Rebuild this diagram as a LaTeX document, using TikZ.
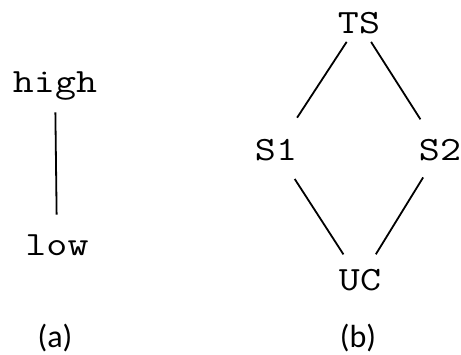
\documentclass[tikz,border=0pt]{standalone}
\usepackage{fontspec}
\newfontfamily\statefont[FakeStretch=1.2]{Latin Modern Mono}
\newfontfamily\capfont{Carlito}
\begin{document}
\begin{tikzpicture}[x=1pt, y=-1pt, line width=1.8pt,
		state/.style={font=\statefont\fontsize{34}{34}\selectfont, anchor=base, text height=20pt, text depth=0pt, inner sep=8pt},
		chain/.style={state, inner sep=19.5pt},
		sub/.style={font=\capfont\fontsize{32}{32}\selectfont, anchor=base}]
			\useasboundingbox (0,0) rectangle (461,354);
			
			% (a) two levels
			\node[chain] (high) at (55,92) {high};
			\node[chain] (low) at (57,255) {low};
			\draw (high) -- (low);
			\node[sub] (capa) at (55,347) {(a)};
			
			% (b) diamond
			\node[state] (TS) at (359,33) {TS};
			\node[state] (S1) at (276,160) {S1};
			\node[state] (S2) at (440,160) {S2};
			\node[state] (UC) at (360,290) {UC};
			\draw[shorten >=16pt] (TS) -- (S1);
			\draw[shorten >=14pt] (TS) -- (S2);
			\draw[shorten <=12pt, shorten >=8pt] (S1) -- (UC);
			\draw[shorten <=10pt, shorten >=8pt] (S2) -- (UC);
			\node[sub] (capb) at (358,347) {(b)};
		\end{tikzpicture}
\end{document}
